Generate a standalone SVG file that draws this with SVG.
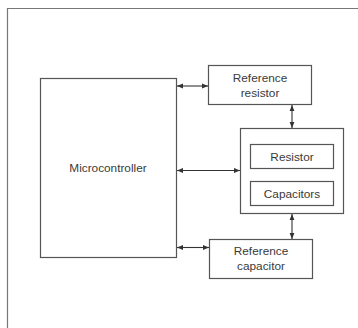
<svg xmlns="http://www.w3.org/2000/svg" width="358" height="328" viewBox="0 0 358 328">
  <defs>
    <marker id="ah" viewBox="0 0 10 10" refX="10" refY="5" markerWidth="6" markerHeight="6" orient="auto-start-reverse" markerUnits="userSpaceOnUse">
      <path d="M0,1 L10,5 L0,9 Z" fill="#333"/>
    </marker>
  </defs>
  <style>
    .box { fill: #fff; stroke: #555; stroke-width: 1.2; }
    .lbl { font-family: "Liberation Sans", Arial, sans-serif; font-size: 11.8px; fill: #3a3a3a; text-anchor: middle; }
    .link { stroke: #333; stroke-width: 1.1; fill: none; marker-start: url(#ah); marker-end: url(#ah); }
  </style>
  <rect width="358" height="328" fill="#fff"/>
  <!-- outer frame, runs off the right and bottom edges -->
  <path d="M7.5,340 V8.5 H370" fill="none" stroke="#777" stroke-width="1.2"/>

  <g id="microcontroller">
    <rect class="box" x="40.5" y="78.5" width="136" height="179"/>
    <text class="lbl" x="108" y="172">Microcontroller</text>
  </g>

  <g id="reference-resistor">
    <rect class="box" x="208.5" y="65.5" width="103" height="39"/>
    <text class="lbl" x="260" y="81.5">Reference</text>
    <text class="lbl" x="260" y="96.5">resistor</text>
  </g>

  <g id="sensor">
    <rect class="box" x="240.5" y="128.5" width="103" height="85"/>
  </g>

  <g id="resistor">
    <rect class="box" x="250.5" y="144.5" width="83" height="24"/>
    <text class="lbl" x="292" y="160.5">Resistor</text>
  </g>

  <g id="capacitors">
    <rect class="box" x="250.5" y="181.5" width="83" height="24"/>
    <text class="lbl" x="292" y="197.5">Capacitors</text>
  </g>

  <g id="reference-capacitor">
    <rect class="box" x="209.5" y="239.5" width="103" height="39"/>
    <text class="lbl" x="261" y="255">Reference</text>
    <text class="lbl" x="261" y="269.5">capacitor</text>
  </g>

  <g id="connectors">
    <line class="link" x1="177" y1="86" x2="208" y2="86"/>
    <line class="link" x1="177" y1="170.5" x2="240" y2="170.5"/>
    <line class="link" x1="177" y1="247.5" x2="209" y2="247.5"/>
    <line class="link" x1="292" y1="105" x2="292" y2="128"/>
    <line class="link" x1="292" y1="214" x2="292" y2="239"/>
  </g>
</svg>
